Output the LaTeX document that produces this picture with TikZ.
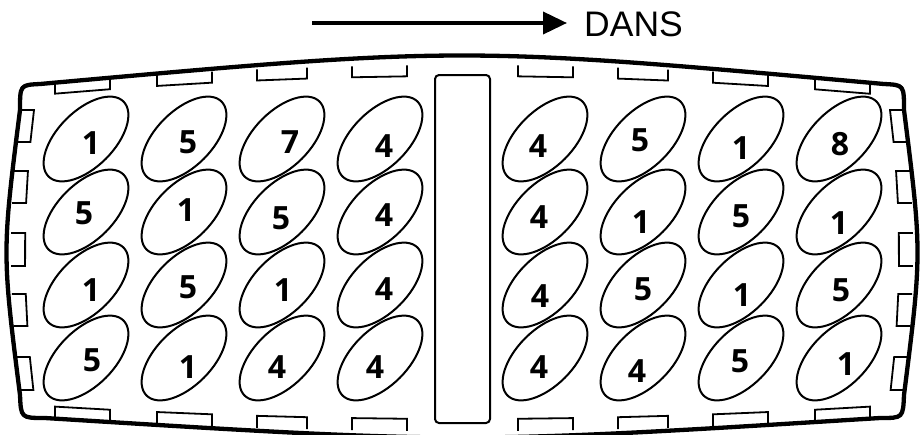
\documentclass[tikz,border=0pt]{standalone}
\usepackage{fontspec}
\setmainfont{Liberation Sans}
\newfontfamily\digitfont{Open Sans}
\usetikzlibrary{arrows.meta}
\begin{document}
\begin{tikzpicture}[x=1pt,y=-1pt,
  outline/.style={line width=4.3pt, line join=round},
  tabline/.style={line width=1.8pt, line join=miter},
  seed/.style={line width=2pt},
  digit/.style={font=\digitfont\bfseries\fontsize{32}{32}\selectfont, inner sep=0pt},
  label/.style={font=\fontsize{35.5}{35.5}\selectfont, inner sep=0pt, anchor=west},
  ]
\useasboundingbox (0,0) rectangle (921,434);

% outer tray outline
\draw[outline] (40,84) .. controls (462,46) .. (884,84)
  .. controls (904,85) .. (904,110)
  .. controls (922,252.5) .. (904,395)
  .. controls (903,418) .. (880,418)
  .. controls (462.5,444) .. (45,418)
  .. controls (21,418) .. (20,395)
  .. controls (2,252.5) .. (20,110)
  .. controls (20,85) .. (40,84) -- cycle;

% top tabs
\foreach \xa/\xb in {55/110,157/212,257/307,352/407,518/573,618/668,713/768,815/870}{
  \pgfmathsetmacro\ya{65+19*((\xa-462)/422)^2}
  \pgfmathsetmacro\yb{65+19*((\xb-462)/422)^2}
  \draw[tabline] (\xa,\ya) -- (\xa,\ya+11) -- (\xb,\yb+11) -- (\xb,\yb);
}
% bottom tabs
\foreach \xa/\xb in {55/110,157/212,257/307,352/407,518/573,618/668,713/768,815/870}{
  \pgfmathsetmacro\ya{431-13*((\xa-462.5)/417.5)^2}
  \pgfmathsetmacro\yb{431-13*((\xb-462.5)/417.5)^2}
  \draw[tabline] (\xa,\ya) -- (\xa,\ya-12) -- (\xb,\yb-12) -- (\xb,\yb);
}
% side tabs
\foreach \ya/\yb in {110/142,171/203,233/266,294/326,357/390}{
  \pgfmathsetmacro\xla{11+9*((\ya-252.5)/142.5)^2}
  \pgfmathsetmacro\xlb{11+9*((\yb-252.5)/142.5)^2}
  \pgfmathsetmacro\xra{913-9*((\ya-252.5)/142.5)^2}
  \pgfmathsetmacro\xrb{913-9*((\yb-252.5)/142.5)^2}
  \draw[tabline] (\xla,\ya) -- (\xla+14,\ya) -- (\xlb+14,\yb) -- (\xlb,\yb);
  \draw[tabline] (\xra,\ya) -- (\xra-14,\ya) -- (\xrb-14,\yb) -- (\xrb,\yb);
}

% central divider
\draw[seed, rounded corners=4pt] (435,75) rectangle (490,423);

% seed ellipses
\foreach \cx in {86,184,282,380,545,643,741,839}{
  \foreach \cy in {139,212,285,358}{
    \draw[seed, rotate around={45:(\cx,\cy)}] (\cx,\cy) ellipse [x radius=53, y radius=28];
  }
}

% numbers
\foreach \px/\py/\t [count=\i] in {
  91/143/1, 188/142/5, 290/142/7, 384/146/4, 538/146/4, 640/140/5, 741/148/1, 840/144/8,
  84/213/5, 186/210/1, 281/218/5, 384/215/4, 539/217/4, 641/222/1, 741/216/5, 839/223/1,
  91/290/1, 188/287/5, 283/290/1, 384/289/4, 540/296/4, 643/289/5, 742/295/1, 841/290/5,
  92/360/5, 188/367/1, 277/367/4, 375/367/4, 539/367/4, 637/371/4, 740/361/5, 846/364/1}{
  \node[digit] (num\i) at (\px,\py) {\t};
}

% direction arrow
\coordinate (arrowstart) at (312,23);
\coordinate (arrowend) at (567,23);
\node[label] (dans) at (584,24.5) {DANS};
\draw[line width=3.8pt, -{Triangle[length=24pt,width=22pt]}] (arrowstart) -- (arrowend);
\end{tikzpicture}
\end{document}
